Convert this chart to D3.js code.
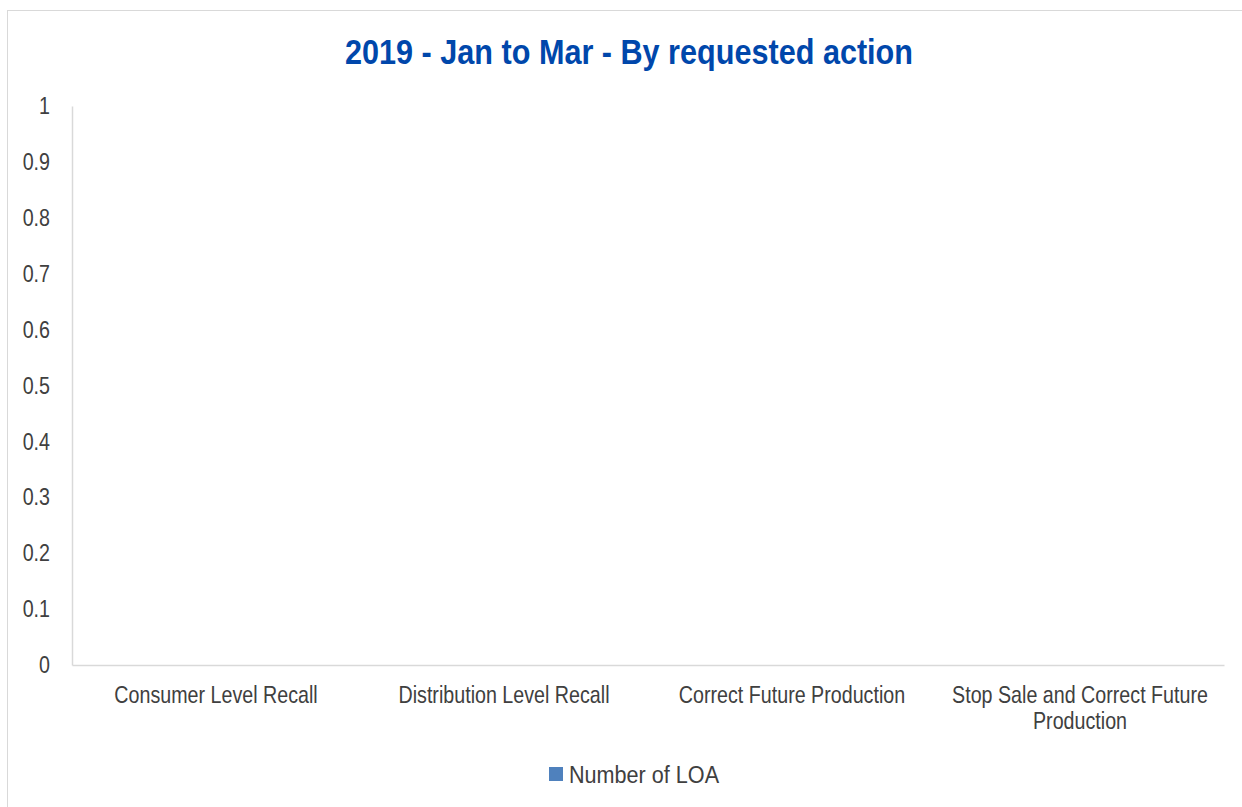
<!DOCTYPE html>
<html>
<head>
<meta charset="utf-8">
<script src="https://cdn.jsdelivr.net/npm/d3@7"></script>
<style>
    body { margin: 0; background: #fff; }
    text { font-family: "Liberation Sans", Arial, sans-serif; }
</style>
</head>
<body>
<div id="chart"></div>
<script>
var title = '2019 - Jan to Mar - By requested action'
var categories = ['Consumer Level Recall', 'Distribution Level Recall', 'Correct Future Production', 'Stop Sale and Correct Future Production']
var values = [0, 0, 0, 0]
var seriesName = 'Number of LOA'
var yTicks = [0, 0.1, 0.2, 0.3, 0.4, 0.5, 0.6, 0.7, 0.8, 0.9, 1]

var width = 1242
var height = 807
var margin = { top: 106, right: 18, bottom: 142, left: 72 }
var squeeze = 0.82 // the original font is a bit narrow

var svg = d3.select('#chart').append('svg')
    .attr('width', width)
    .attr('height', height)

// outer chart frame (runs off the right and bottom edges)
svg.append('rect')
    .attr('x', 7.5)
    .attr('y', 10.5)
    .attr('width', width)
    .attr('height', height)
    .attr('fill', 'none')
    .attr('stroke', '#d9d9d9')

svg.append('text')
    .attr('x', 629)
    .attr('y', 64)
    .attr('text-anchor', 'middle')
    .attr('fill', '#0047ab')
    .attr('textLength', 568)
    .attr('lengthAdjust', 'spacingAndGlyphs')
    .style('font-size', '35px')
    .style('font-weight', 'bold')
    .text(title)

var x = d3.scaleBand()
    .domain(categories)
    .range([margin.left, width - margin.right])
    .paddingInner(0.5)
    .paddingOuter(0.25)

var y = d3.scaleLinear()
    .domain([0, 1])
    .range([height - margin.bottom, margin.top])

var g = svg.append('g')

// bars (all zero here)
g.selectAll('.bar').data(values)
    .enter().append('rect')
    .attr('class', 'bar')
    .attr('x', function(d, i) { return x(categories[i]) })
    .attr('width', x.bandwidth())
    .attr('y', function(d) { return y(d) })
    .attr('height', function(d) { return y(0) - y(d) })
    .attr('fill', '#4f81bd')

var yAxis = g.append('g')
    .attr('transform', 'translate(' + margin.left + ',0)')
    .call(d3.axisLeft(y).tickValues(yTicks).tickSize(0).tickFormat(d3.format('')))
yAxis.select('.domain').attr('stroke', '#d9d9d9').attr('stroke-width', 1.5)
yAxis.selectAll('text')
    .attr('x', 0)
    .attr('transform', 'translate(-22,0) scale(' + squeeze + ',1)')
    .attr('fill', '#404040')
    .style('font-size', '24px')

var xAxis = g.append('g')
    .attr('transform', 'translate(0,' + y(0) + ')')
    .call(d3.axisBottom(x).tickSize(0).tickPadding(21))
xAxis.select('.domain').attr('stroke', '#d9d9d9').attr('stroke-width', 1.5)
xAxis.selectAll('text')
    .attr('fill', '#404040')
    .attr('transform', 'scale(' + squeeze + ',1)')
    .style('font-size', '24px')
    .each(function(d) {
        var t = d3.select(this)
        var maxW = (x.step() - 20) / squeeze
        var words = d.split(' ')
        t.text(null)
        var line = []
        var tspan = t.append('tspan').attr('x', 0).attr('dy', '0.71em')
        words.forEach(function(w) {
            line.push(w)
            tspan.text(line.join(' '))
            if (tspan.node().getComputedTextLength() > maxW && line.length > 1) {
                line.pop()
                tspan.text(line.join(' '))
                line = [w]
                tspan = t.append('tspan').attr('x', 0).attr('dy', '1.08em').text(w)
            }
        })
    })

// legend
var legend = svg.append('g').attr('transform', 'translate(549,767)')
legend.append('rect')
    .attr('width', 14)
    .attr('height', 14)
    .attr('fill', '#4f81bd')
legend.append('text')
    .attr('transform', 'translate(20,16) scale(0.9,1)')
    .attr('fill', '#404040')
    .style('font-size', '24px')
    .text(seriesName)
</script>
</body>
</html>
